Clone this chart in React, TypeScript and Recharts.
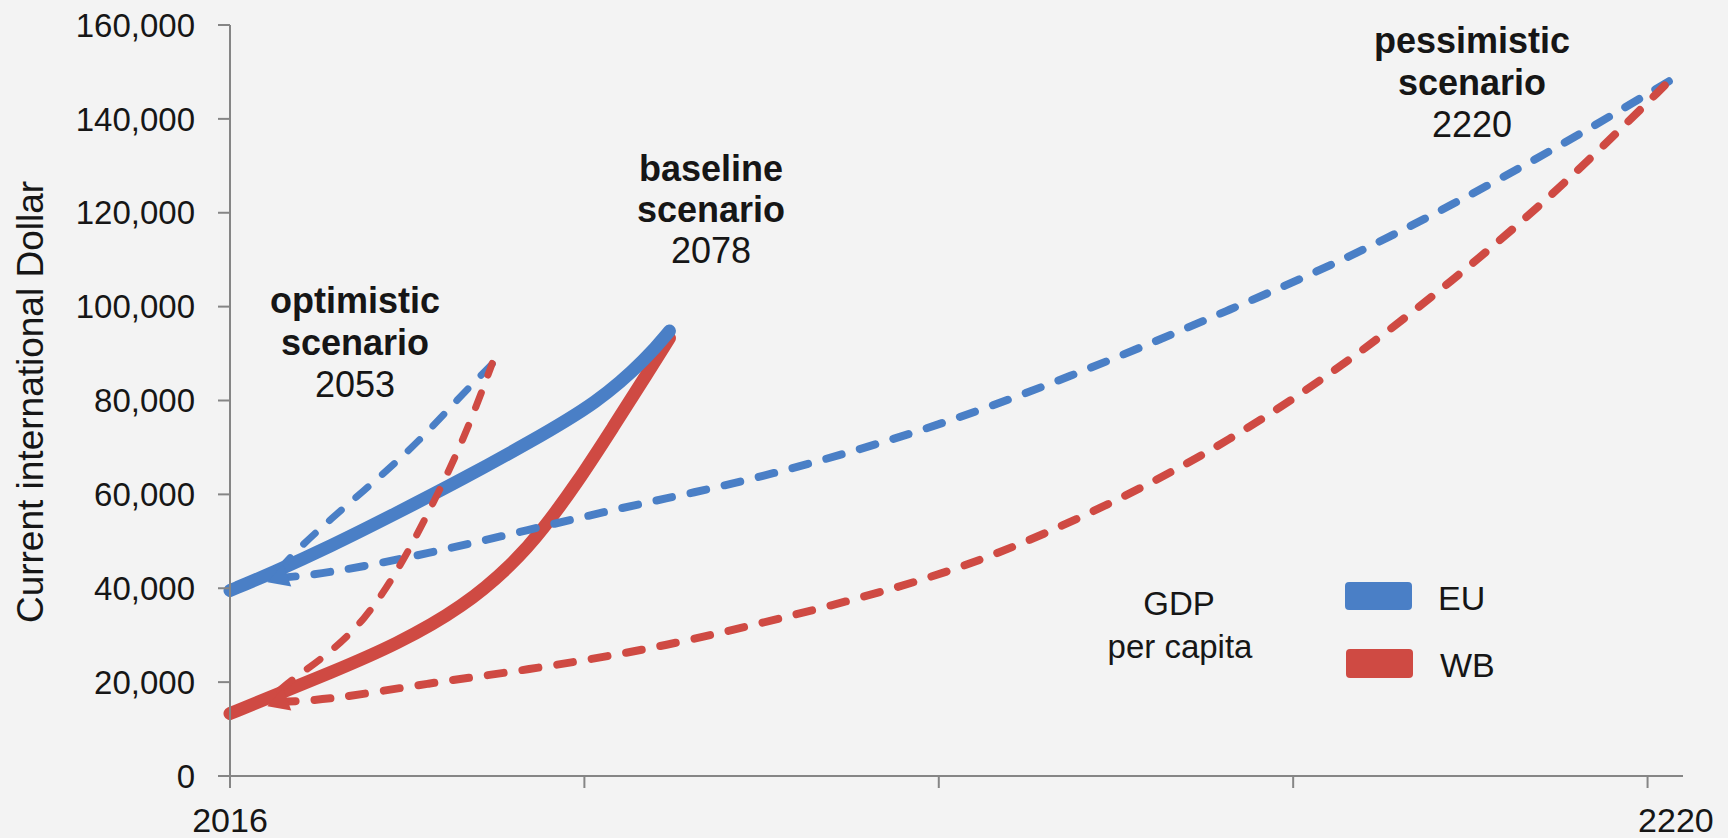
import React from "react";
import { LineChart, Line, XAxis, YAxis } from "recharts";

const EU = "#4A7FC6";
const WB = "#CF4A43";
const AXIS = "#858585";
const INK = "#161616";
const BG = "#F3F3F3";
const FONT = '"Liberation Sans", Arial, sans-serif';

// baseline scenario (solid)
const euBaseYears = [2016, 2022, 2030, 2039.5, 2049, 2058, 2068, 2075, 2078];
const euBaseValues = [39500, 43300, 48800, 56000, 63400, 70900, 79600, 89300, 94800];
const wbBaseYears = [2016, 2022, 2030, 2039.5, 2049, 2056, 2060, 2065, 2070, 2075, 2078];
const wbBaseValues = [13300, 17000, 21900, 28000, 36100, 45300, 52200, 62500, 74200, 86000, 93300];

// optimistic scenario (dashed, ends 2053)
const euOptYears = [2023, 2025, 2030, 2037, 2043, 2048, 2053];
const euOptValues = [44000, 47500, 54500, 63500, 71800, 80100, 87800];
const wbOptYears = [2023, 2025, 2030, 2035, 2039.5, 2044, 2049, 2053];
const wbOptValues = [18300, 20800, 26100, 33200, 43200, 56000, 71600, 87900];

// pessimistic scenario (dashed, ends 2220)
const euPessYears = [2023, 2030, 2044, 2058, 2072, 2081, 2093, 2108, 2123, 2141, 2157, 2173, 2188, 2204, 2219];
const euPessValues = [42200, 43200, 47400, 52400, 57400, 60200, 64500, 70900, 78400, 89000, 99300, 109800, 121300, 134500, 148000];
const wbPessYears = [2023, 2030, 2044, 2058, 2072, 2081, 2093, 2108, 2123, 2141, 2157, 2173, 2188, 2204, 2220];
const wbPessValues = [15800, 16200, 19800, 22600, 26200, 29000, 33300, 39100, 46200, 58400, 71300, 87300, 104800, 125500, 149500];

const yTicks = [0, 20000, 40000, 60000, 80000, 100000, 120000, 140000, 160000];
const xTickMarks = [2016, 2066, 2116, 2166, 2216];
const xTickLabels = [2016, 2220];

const rows = (years: number[], values: number[]) =>
  years.map((year, i) => ({ year, gdp: values[i] }));

const euBase = rows(euBaseYears, euBaseValues);
const wbBase = rows(wbBaseYears, wbBaseValues);
const euOpt = rows(euOptYears, euOptValues);
const wbOpt = rows(wbOptYears, wbOptValues);
const euPess = rows(euPessYears, euPessValues);
const wbPess = rows(wbPessYears, wbPessValues);

function XTick(props: any) {
  const { x, y, payload } = props;
  const v = payload.value;
  return (
    <g>
      {xTickMarks.includes(v) && (
        <line x1={x} x2={x} y1={y} y2={y + 12} stroke={AXIS} strokeWidth={2} />
      )}
      {xTickLabels.includes(v) && (
        <text x={x} y={y + 56} textAnchor="middle" fontSize={34} fontFamily={FONT} fill={INK}>
          {v}
        </text>
      )}
    </g>
  );
}

// arrow head on the first point of a series
const arrowDot = (color: string, angle: number) => (p: any) => {
  if (p.index !== 0) return <g key={`d-${p.index}`} />;
  return (
    <polygon
      key={`d-${p.index}`}
      points="-13,0 8,-12 8,12"
      fill={color}
      transform={`translate(${p.cx},${p.cy}) rotate(${-angle})`}
    />
  );
};

export default function App() {
  const dashed = { strokeDasharray: "16 19", strokeLinecap: "round" as const };
  return (
    <div style={{ position: "absolute", left: 0, top: 0, width: 1728, height: 838, background: BG }}>
      <LineChart width={1728} height={838} margin={{ top: 25, right: 45, bottom: 0, left: 0 }}>
        <XAxis
          dataKey="year"
          type="number"
          domain={[2016, 2221]}
          ticks={[...xTickMarks, 2220]}
          interval={0}
          height={62}
          tickSize={0}
          tickMargin={0}
          tickLine={false}
          axisLine={{ stroke: AXIS, strokeWidth: 2 }}
          tick={<XTick />}
          allowDuplicatedCategory={false}
        />
        <YAxis
          type="number"
          domain={[0, 160000]}
          ticks={yTicks}
          interval={0}
          width={230}
          tickSize={12}
          tickMargin={23}
          tickLine={{ stroke: AXIS, strokeWidth: 2 }}
          axisLine={{ stroke: AXIS, strokeWidth: 2 }}
          tick={{ fill: INK, fontSize: 33, fontFamily: FONT }}
          tickFormatter={(v: number) => v.toLocaleString("en-US")}
        />
        <Line data={wbBase} dataKey="gdp" type="basis" stroke={WB} strokeWidth={13}
          strokeLinecap="round" dot={false} activeDot={false} isAnimationActive={false} />
        <Line data={euBase} dataKey="gdp" type="basis" stroke={EU} strokeWidth={13}
          strokeLinecap="round" dot={false} activeDot={false} isAnimationActive={false} />
        <Line data={euPess} dataKey="gdp" type="basis" stroke={EU} strokeWidth={8} {...dashed}
          dot={arrowDot(EU, 20)} activeDot={false} isAnimationActive={false} />
        <Line data={wbPess} dataKey="gdp" type="basis" stroke={WB} strokeWidth={8} {...dashed}
          dot={arrowDot(WB, 20)} activeDot={false} isAnimationActive={false} />
        <Line data={euOpt} dataKey="gdp" type="basis" stroke={EU} strokeWidth={7} {...dashed}
          dot={false} activeDot={false} isAnimationActive={false} />
        <Line data={wbOpt} dataKey="gdp" type="basis" stroke={WB} strokeWidth={7} {...dashed}
          dot={false} activeDot={false} isAnimationActive={false} />
      </LineChart>

      <svg
        width={1728}
        height={838}
        style={{ position: "absolute", left: 0, top: 0, pointerEvents: "none" }}
        fontFamily={FONT}
        fill={INK}
      >
        <text x={30} y={402} fontSize={37} textAnchor="middle" dominantBaseline="central"
          transform="rotate(-90 30 402)">
          Current international Dollar
        </text>

        <g fontSize={36} textAnchor="middle">
          <text x={355} y={313} fontWeight="bold">optimistic</text>
          <text x={355} y={355} fontWeight="bold">scenario</text>
          <text x={355} y={397}>2053</text>

          <text x={711} y={181} fontWeight="bold">baseline</text>
          <text x={711} y={222} fontWeight="bold">scenario</text>
          <text x={711} y={263}>2078</text>

          <text x={1472} y={53} fontWeight="bold">pessimistic</text>
          <text x={1472} y={95} fontWeight="bold">scenario</text>
          <text x={1472} y={137}>2220</text>
        </g>

        <g fontSize={33} textAnchor="middle">
          <text x={1179} y={615}>GDP</text>
          <text x={1180} y={658}>per capita</text>
        </g>

        <rect x={1345} y={582} width={67} height={28} rx={4} fill={EU} />
        <rect x={1346} y={649} width={67} height={29} rx={4} fill={WB} />
        <text x={1438} y={610} fontSize={34}>EU</text>
        <text x={1440} y={677} fontSize={34}>WB</text>
      </svg>
    </div>
  );
}
